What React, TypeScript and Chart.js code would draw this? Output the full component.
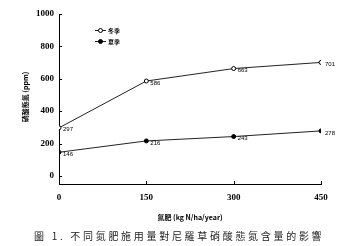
import React, { useEffect, useRef } from "react";
import { Chart, registerables } from "chart.js";

Chart.register(...registerables);

const nitrogenRates = [0, 150, 300, 450];
const winterValues = [297, 586, 663, 701];
const summerValues = [146, 216, 243, 278];
const seriesNames = ["冬季", "夏季"];
const yTickValues = [0, 200, 400, 600, 800, 1000];
const xTickValues = [0, 150, 300, 450];
const yTitle = "硝酸態氮 (ppm)";
const xTitle = "氮肥 (kg N/ha/year)";
const caption = "圖 1. 不同氮肥施用量對尼羅草硝酸態氮含量的影響";

const tickFont = { family: "'Liberation Serif', serif", size: 9, weight: "bold" as const };

const overlay = {
  id: "overlay",
  afterDraw(chart: any) {
    const ctx = chart.ctx as CanvasRenderingContext2D;
    const xs = chart.scales.x;
    const ys = chart.scales.y;
    const area = chart.chartArea;
    ctx.save();
    ctx.strokeStyle = "#000";
    ctx.lineWidth = 1;
    // inward tick marks
    ctx.beginPath();
    yTickValues.forEach((v) => {
      const py = Math.round(ys.getPixelForValue(v)) + 0.5;
      ctx.moveTo(area.left, py);
      ctx.lineTo(area.left + 3, py);
    });
    xTickValues.forEach((v) => {
      const px = Math.round(xs.getPixelForValue(v)) + 0.5;
      ctx.moveTo(px, area.bottom);
      ctx.lineTo(px, area.bottom - 3);
    });
    ctx.stroke();

    // data labels
    ctx.fillStyle = "#000";
    ctx.font = "6px 'Liberation Sans', sans-serif";
    ctx.textBaseline = "middle";
    ctx.textAlign = "left";
    [winterValues, summerValues].forEach((vals) => {
      vals.forEach((v, i) => {
        const px = xs.getPixelForValue(nitrogenRates[i]);
        const py = ys.getPixelForValue(v);
        ctx.fillText(String(v), px + 4, py + 2);
      });
    });

    // legend
    const lx = area.left + 36;
    const rows = [area.top + 16, area.top + 27];
    rows.forEach((ry, i) => {
      ctx.beginPath();
      ctx.strokeStyle = "#222";
      ctx.moveTo(lx, ry + 0.5);
      ctx.lineTo(lx + 11, ry + 0.5);
      ctx.stroke();
      ctx.beginPath();
      ctx.arc(lx + 5.5, ry + 0.5, 2, 0, Math.PI * 2);
      ctx.fillStyle = i === 0 ? "#fff" : "#000";
      ctx.fill();
      ctx.strokeStyle = "#000";
      ctx.stroke();
      ctx.fillStyle = "#000";
      ctx.font = "bold 6px 'Noto Sans CJK TC', sans-serif";
      ctx.textBaseline = "middle";
      ctx.textAlign = "left";
      ctx.fillText(seriesNames[i], lx + 13, ry + 0.5);
    });

    // axis titles
    ctx.font = "bold 7px 'Noto Sans CJK TC', sans-serif";
    ctx.textAlign = "center";
    ctx.textBaseline = "middle";
    ctx.fillText(xTitle, (area.left + area.right) / 2, area.bottom + 33);
    ctx.save();
    ctx.translate(25, area.top + 83);
    ctx.rotate(-Math.PI / 2);
    ctx.fillText(yTitle, 0, 0);
    ctx.restore();

    // caption
    ctx.font = "10px 'Noto Sans CJK TC', sans-serif";
    ctx.textAlign = "left";
    ctx.textBaseline = "middle";
    (ctx as any).letterSpacing = "2.7px";
    ctx.fillStyle = "#222";
    ctx.fillText(caption, 34, 236);
    ctx.restore();
  },
};

export default function App() {
  const ref = useRef<HTMLCanvasElement>(null);
  useEffect(() => {
    if (!ref.current) return;
    const chart = new Chart(ref.current, {
      type: "line",
      data: {
        datasets: [
          {
            label: seriesNames[0],
            data: nitrogenRates.map((x, i) => ({ x, y: winterValues[i] })),
            borderColor: "#222",
            borderWidth: 1,
            pointRadius: 2,
            pointBackgroundColor: "#fff",
            pointBorderColor: "#000",
            pointBorderWidth: 1,
            tension: 0,
          },
          {
            label: seriesNames[1],
            data: nitrogenRates.map((x, i) => ({ x, y: summerValues[i] })),
            borderColor: "#222",
            borderWidth: 1,
            pointRadius: 2,
            pointBackgroundColor: "#000",
            pointBorderColor: "#000",
            pointBorderWidth: 1,
            tension: 0,
          },
        ],
      },
      options: {
        responsive: false,
        animation: false,
        devicePixelRatio: 1,
        layout: { padding: { left: 0, right: 36, top: 14, bottom: 0 } },
        plugins: { legend: { display: false }, tooltip: { enabled: false } },
        scales: {
          x: {
            type: "linear",
            min: 0,
            max: 450,
            afterBuildTicks: (s: any) => {
              s.ticks = xTickValues.map((v) => ({ value: v }));
            },
            afterFit: (s: any) => {
              s.height = 62;
            },
            grid: { display: false, drawTicks: false },
            border: { display: true, color: "#000", width: 1 },
            ticks: { color: "#000", font: tickFont, padding: 8, maxRotation: 0, callback: (v: any) => String(v) },
          },
          y: {
            type: "linear",
            min: -50,
            max: 1000,
            afterBuildTicks: (s: any) => {
              s.ticks = yTickValues.map((v) => ({ value: v }));
            },
            afterFit: (s: any) => {
              s.width = 59;
            },
            grid: { display: false, drawTicks: false },
            border: { display: true, color: "#000", width: 1 },
            ticks: { color: "#000", font: tickFont, padding: 5, callback: (v: any) => String(v) },
          },
        },
      },
      plugins: [overlay],
    });
    return () => chart.destroy();
  }, []);
  return (
    <div style={{ position: "absolute", left: 0, top: 0, width: 357, height: 246, background: "#fff" }}>
      <canvas ref={ref} width={357} height={246} style={{ display: "block" }} />
    </div>
  );
}
